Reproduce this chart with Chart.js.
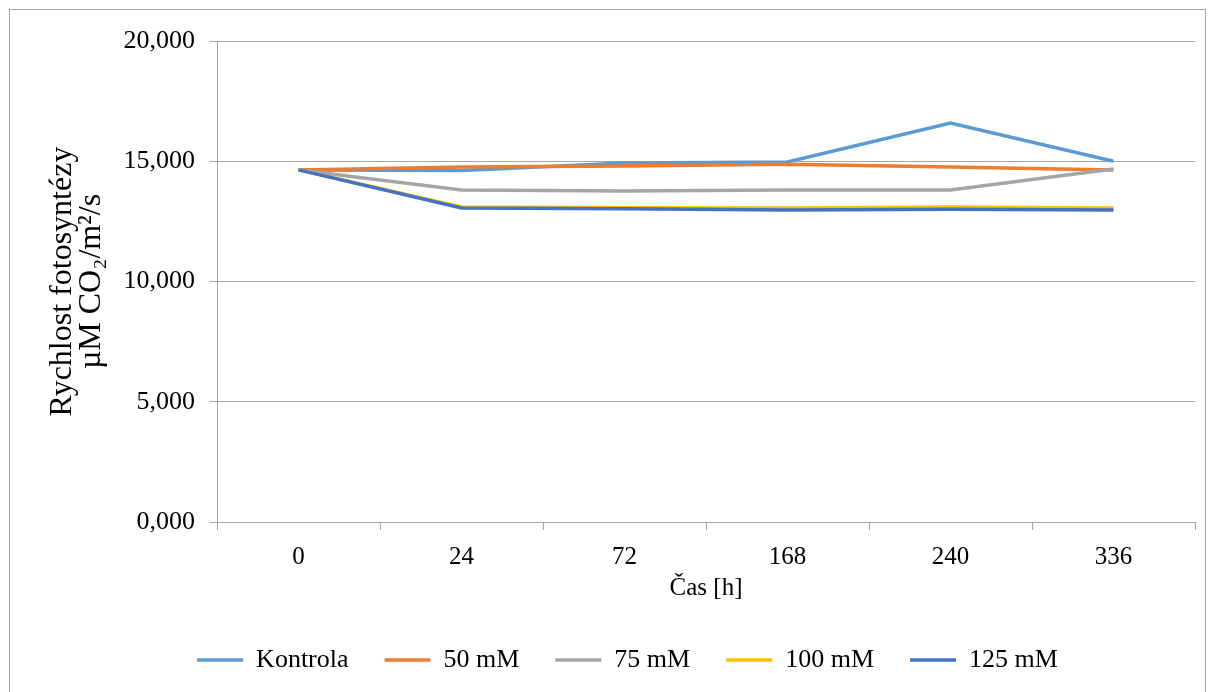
<!DOCTYPE html>
<html>
<head>
<meta charset="utf-8">
<script src="https://cdn.jsdelivr.net/npm/chart.js@4/dist/chart.umd.min.js"></script>
<style>
    html, body { margin: 0; padding: 0; background: #fff; }
    #frame { position: absolute; left: 9px; top: 9px; width: 1197px; height: 690px; border: 1px solid #a6a6a6; box-sizing: border-box; }
    #wrap { position: absolute; left: 0; top: 0; width: 1215px; height: 692px; }
</style>
</head>
<body>
<div id="frame"></div>
<div id="wrap"><canvas id="photo-chart"></canvas></div>
<script>
const labels = ['0', '24', '72', '168', '240', '336'];
const kontrola = [14.64, 14.62, 14.93, 14.97, 16.59, 15.0];
const mM50 = [14.64, 14.76, 14.80, 14.88, 14.76, 14.64];
const mM75 = [14.64, 13.80, 13.76, 13.80, 13.80, 14.68];
const mM100 = [14.64, 13.10, 13.07, 13.06, 13.10, 13.06];
const mM125 = [14.64, 13.06, 13.02, 12.97, 13.00, 12.97];
const yTicks = [0, 5, 10, 15, 20];

const seriesNames = ['Kontrola', '50 mM', '75 mM', '100 mM', '125 mM'];
const seriesData = [kontrola, mM50, mM75, mM100, mM125];
const seriesColors = ['#5b9bd5', '#ed7d31', '#a5a5a5', '#ffc000', '#4472c4'];

const serif = "'Liberation Serif', 'Times New Roman', serif";

function createPhotoChart(canvas) {
    return new Chart(canvas, {
        type: 'line',
        data: {
            labels: labels,
            datasets: seriesNames.map((name, i) => ({
                label: name,
                data: seriesData[i],
                borderColor: seriesColors[i],
                backgroundColor: seriesColors[i],
                borderWidth: 3.5,
                pointRadius: 0,
                tension: 0,
                order: seriesNames.length - i,
            })),
        },
        options: {
            responsive: true,
            maintainAspectRatio: false,
            animation: false,
            layout: {
                // left padding only re-centres the legend; the y axis still ends at 217px
                padding: { top: 41, right: 20, bottom: 9, left: 60 },
            },
            plugins: {
                legend: {
                    position: 'bottom',
                    labels: {
                        usePointStyle: true,
                        pointStyle: 'line',
                        pointStyleWidth: 46,
                        boxHeight: 3,
                        padding: 36,
                        color: '#000',
                        font: { family: serif, size: 26 },
                        sort: (a, b) => a.datasetIndex - b.datasetIndex,
                    },
                },
                tooltip: { enabled: false },
            },
            scales: {
                x: {
                    offset: true,
                    afterFit(scale) {
                        scale.height = 89;
                    },
                    grid: {
                        offset: true,
                        drawOnChartArea: false,
                        color: '#a6a6a6',
                        tickLength: 8,
                    },
                    border: { color: '#a6a6a6' },
                    ticks: {
                        color: '#000',
                        padding: 12,
                        font: { family: serif, size: 25 },
                    },
                    title: {
                        display: true,
                        text: 'Čas [h]',
                        color: '#000',
                        padding: { top: 2, bottom: 8 },
                        font: { family: serif, size: 25 },
                    },
                },
                y: {
                    min: 0,
                    max: 20,
                    afterFit(scale) {
                        scale.width = 157;
                    },
                    afterBuildTicks(scale) {
                        scale.ticks = yTicks.map((v) => ({ value: v }));
                    },
                    grid: {
                        color: '#a6a6a6',
                        tickLength: 7,
                    },
                    border: { color: '#a6a6a6' },
                    ticks: {
                        color: '#000',
                        padding: 15,
                        font: { family: serif, size: 26 },
                        callback(value) {
                            return value.toFixed(3).replace('.', ',');
                        },
                    },
                    title: {
                        display: true,
                        text: ['Rychlost fotosyntézy', 'µM CO₂/m²/s'],
                        color: '#000',
                        padding: { top: -12, bottom: 0 },
                        font: { family: serif, size: 32, lineHeight: 0.9 },
                    },
                },
            },
        },
    });
}

createPhotoChart(document.getElementById('photo-chart'));
</script>
</body>
</html>
